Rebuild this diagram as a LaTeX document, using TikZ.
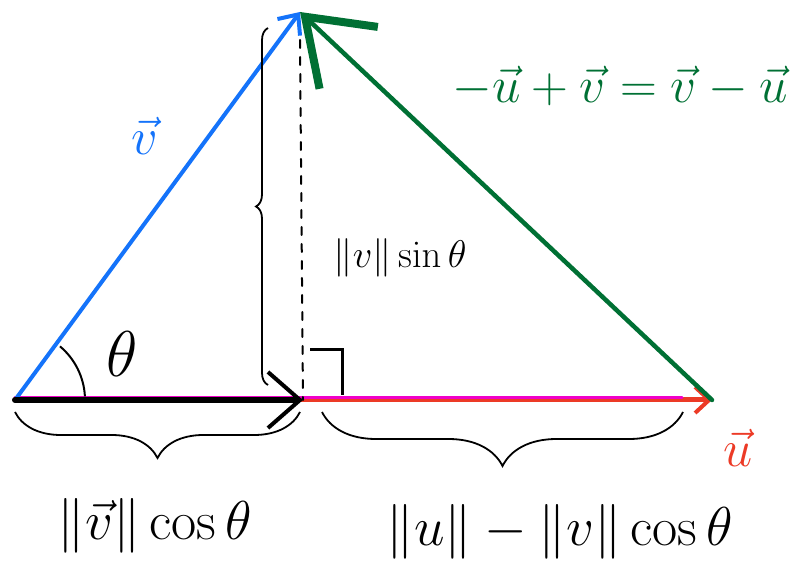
\documentclass[tikz,border=0pt]{standalone}
\usepackage{amsmath}
\usepackage{amssymb}
\usepackage{tikz}
\usetikzlibrary{arrows.meta, positioning, decorations.pathreplacing, calc}
\definecolor{penblue}{RGB}{20,115,250}
\definecolor{pengreen}{RGB}{0,112,52}
\definecolor{penred}{RGB}{236,58,38}
\definecolor{penpink}{RGB}{240,0,200}

\begin{document}
\begin{tikzpicture}[x=1pt, y=1pt,
    vecline/.style={line width=4pt, line cap=round},
    brc/.style={decorate, decoration={brace, amplitude=#1}, line width=1.8pt},
    lbl/.style={font=\Huge, inner sep=0pt, scale=#1, transform shape}]
  \useasboundingbox (0,0) rectangle (803,576);
  \coordinate (O) at (15,176);
  \coordinate (V) at (300,564);
  \coordinate (U) at (712,176);
  \coordinate (F) at (303,176);
  % base vectors
  \draw[vecline, penred, line width=5pt, -{Straight Barb[length=14pt,width=26pt,line width=4pt]}] (O) -- (U);
  \draw[penpink, line width=3pt, line cap=round] ($(O)+(0,2)$) -- ($(U)+(-30,2)$);
  \draw[vecline, penblue, -{Straight Barb[length=16pt,width=28pt,line width=4pt]}] (O) -- (V);
  \draw[vecline, pengreen, line width=4.5pt, -{Straight Barb[length=60pt,width=85pt,line width=8pt]}] (U) -- (V);
  % projection
  \draw[line width=6pt, line cap=round, -{Straight Barb[length=32pt,width=56pt,line width=4pt]}] (O) -- (F);
  \draw[line width=2pt, dash pattern=on 8pt off 9pt, line cap=round] ($(V)+(0,-28)$) -- (F);
  \draw[line width=3pt] (310,226) -- (342,226) -- (342,181);
  \draw[line width=2pt] ($(O)+(50:70)$) arc (50:3:70);
  \node[lbl=2.6] (theta) at (122,222) {$\theta$};
  % braces
  \draw[brc=12pt] (268,191) -- (268,548);
  \draw[brc=46pt] (300,164) -- (15,164);
  \draw[brc=54pt] (683,164) -- (322,164);
  % labels
  \node[lbl=2.1, penblue] (vlbl) at (145,440) {$\vec v$};
  \node[lbl=2.1, penred] (ulbl) at (738,128) {$\vec u$};
  \node[lbl=2.05, pengreen] (sumlbl) at (620,490) {$-\vec u+\vec v=\vec v-\vec u$};
  \node[lbl=1.55] (sinlbl) at (400,318) {$\lVert v\rVert\sin\theta$};
  \node[lbl=2.2] (cosl) at (155,50) {$\lVert\vec v\rVert\cos\theta$};
  \node[lbl=2.2] (diffl) at (560,44) {$\lVert u\rVert-\lVert v\rVert\cos\theta$};
\end{tikzpicture}
\end{document}
